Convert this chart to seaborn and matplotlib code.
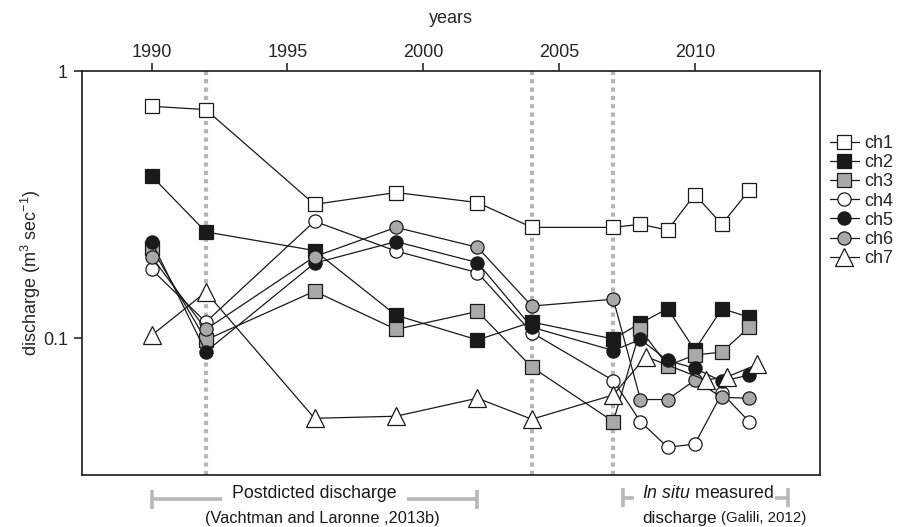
import numpy as np
import pandas as pd
import seaborn as sns
import matplotlib
matplotlib.use("Agg")
import matplotlib.pyplot as plt
import matplotlib.transforms as mtransforms

# ---------------- data ----------------
years = [1990, 1992, 1996, 1999, 2002, 2004, 2007, 2008, 2009, 2010, 2011, 2012]
ch1 = [0.738, 0.717, 0.317, 0.351, 0.322, 0.260, 0.260, 0.267, 0.254, 0.345, 0.267, 0.358]
ch2 = [0.405, 0.250, 0.213, 0.122, 0.0986, 0.115, 0.0994, 0.114, 0.129, 0.0904, 0.129, 0.120]
ch3 = [0.218, 0.0986, 0.150, 0.108, 0.126, 0.078, 0.0488, 0.108, 0.0790, 0.0866, 0.0888, 0.110]
ch4 = [0.181, 0.115, 0.274, 0.212, 0.176, 0.105, 0.0695, 0.0488, 0.0391, 0.0402, 0.0623, 0.0488]
ch5 = [0.230, 0.0891, 0.191, 0.230, 0.192, 0.110, 0.090, 0.099, 0.0826, 0.0772, 0.0690, 0.0729]
ch6 = [0.202, 0.108, 0.202, 0.260, 0.219, 0.132, 0.140, 0.0590, 0.0590, 0.0697, 0.0601, 0.0597]
ch7_years = [1990, 1992, 1996, 1999, 2002, 2004, 2007, 2008.2, 2010.4, 2011.2, 2012.3]
ch7 = [0.1025, 0.149, 0.0502, 0.0511, 0.0597, 0.0498, 0.0614, 0.0854, 0.0698, 0.0718, 0.0798]

series_names = ["ch1", "ch2", "ch3", "ch4", "ch5", "ch6", "ch7"]
divider_years = [1992, 2004, 2007]
x_ticks = [1990, 1995, 2000, 2005, 2010]
y_ticks = [0.1, 1]
y_ticklabels = ["0.1", "1"]

# ---------------- styling ----------------
sns.set_theme(style="ticks")
plt.rcParams["font.family"] = ["Liberation Sans", "DejaVu Sans"]
plt.rcParams["mathtext.fontset"] = "custom"
plt.rcParams["mathtext.rm"] = "Liberation Sans"
plt.rcParams["mathtext.it"] = "Liberation Sans:italic"
plt.rcParams["mathtext.bf"] = "Liberation Sans:bold"

BLACK = "#1a1a1a"
GREY = "#a9a9a9"
WHITE = "#ffffff"
styles = {
    "ch1": dict(marker="s", mfc=WHITE, ms=9.5),
    "ch2": dict(marker="s", mfc=BLACK, ms=9.5),
    "ch3": dict(marker="s", mfc=GREY, ms=9.5),
    "ch4": dict(marker="o", mfc=WHITE, ms=9.5),
    "ch5": dict(marker="o", mfc=BLACK, ms=9.5),
    "ch6": dict(marker="o", mfc=GREY, ms=9.5),
    "ch7": dict(marker="^", mfc=WHITE, ms=13.5),
}
data = {
    "ch1": (years, ch1), "ch2": (years, ch2), "ch3": (years, ch3),
    "ch4": (years, ch4), "ch5": (years, ch5), "ch6": (years, ch6),
    "ch7": (ch7_years, ch7),
}

W, H = 911, 527
fig = plt.figure(figsize=(W / 100, H / 100), dpi=100)
ax = fig.add_axes([82 / W, 1 - 475 / H, (820 - 82) / W, (475 - 71) / H])

ax.set_yscale("log")
ax.set_xlim(1987.44, 2014.61)
ax.set_ylim(0.0308, 1.0)

for yr in divider_years:
    ax.axvline(yr, color="#b5b5b5", lw=3.0, ls=(0, (1.0, 1.0)), zorder=1)

for name in series_names:
    xs, ys = data[name]
    st = styles[name]
    sns.lineplot(x=xs, y=ys, ax=ax, color=BLACK, lw=0.9,
                 marker=st["marker"], markersize=st["ms"],
                 markerfacecolor=st["mfc"], markeredgecolor=BLACK,
                 markeredgewidth=0.9, label=name, zorder=3, sort=False)

# axes / ticks
ax.xaxis.tick_top()
ax.xaxis.set_label_position("top")
ax.set_xticks(x_ticks)
ax.set_xticklabels([str(t) for t in x_ticks])
ax.set_xlabel("years", fontsize=13, labelpad=15)
ax.yaxis.set_minor_locator(matplotlib.ticker.NullLocator())
ax.set_yticks(y_ticks)
ax.set_yticklabels(y_ticklabels)
ax.set_ylabel("discharge (m$^{3}$ sec$^{-1}$)", fontsize=13, labelpad=0)
ax.tick_params(axis="both", which="major", direction="out", length=6,
               width=1.1, labelsize=13, color=BLACK, pad=4)
ax.tick_params(axis="x", bottom=False, top=True, pad=1.5)
for sp in ax.spines.values():
    sp.set_visible(True)
    sp.set_color(BLACK)
    sp.set_linewidth(1.2)

# legend
leg = ax.legend(loc="upper left", bbox_to_anchor=(830 / W, 1 - 135 / H),
                bbox_transform=fig.transFigure, frameon=False, fontsize=13,
                handlelength=1.6, handletextpad=0.3, labelspacing=0.12,
                borderpad=0, borderaxespad=0)

# bottom annotations (data x, figure y)
tr = mtransforms.blended_transform_factory(ax.transData, fig.transFigure)
BR = "#b8b8b8"
def fy(p):
    return 1 - p / H

def bracket_line(x0, x1, y):
    ax.plot([x0, x1], [fy(y), fy(y)], color=BR, lw=2.6, transform=tr,
            clip_on=False, solid_capstyle="butt")

def cap(x, y0, y1):
    ax.plot([x, x], [fy(y0), fy(y1)], color=BR, lw=2.6, transform=tr,
            clip_on=False, solid_capstyle="butt")

bracket_line(1990, 1992.6, 499)
bracket_line(1999.4, 2002, 499)
cap(1990, 490, 509)
cap(2002, 490, 509)
ax.text(1996, fy(494), "Postdicted discharge", transform=tr, ha="center",
        va="center", fontsize=12.8, color=BLACK)
ax.text(1996.3, fy(518), "(Vachtman and Laronne ,2013b)", transform=tr,
        ha="center", va="center", fontsize=11.8, color=BLACK)

bracket_line(2007.35, 2007.75, 498)
bracket_line(2012.95, 2013.44, 498)
cap(2007.35, 488, 507)
cap(2013.44, 488, 507)
ax.text(2008.05, fy(494), r"$\it{In\ situ}$ measured", transform=tr,
        ha="left", va="center", fontsize=12.8, color=BLACK)
t1 = ax.text(2008.05, fy(518), "discharge", transform=tr, ha="left",
             va="center", fontsize=12.3, color=BLACK)
ax.annotate("(Galili, 2012)", xy=(1, 0.5), xycoords=t1, xytext=(3, 0),
            textcoords="offset points", ha="left", va="center",
            fontsize=10.8, color=BLACK)

fig.savefig("out.png", dpi=100)
